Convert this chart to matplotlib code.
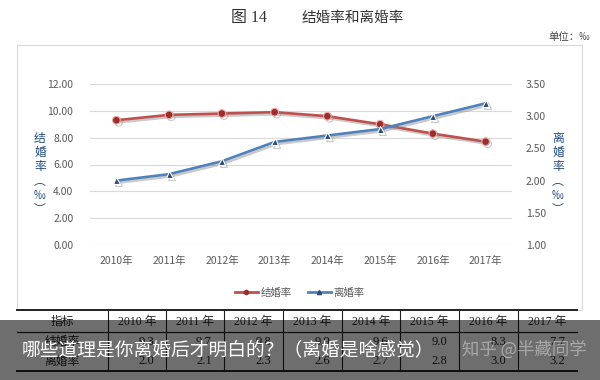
import matplotlib
matplotlib.use('Agg')
import matplotlib.pyplot as plt
import matplotlib.patheffects as pe
from matplotlib.patches import Rectangle
from matplotlib.lines import Line2D

plt.rcParams['font.family'] = ['Noto Sans CJK SC', 'DejaVu Sans']

# data
years = ['2010年', '2011年', '2012年', '2013年', '2014年', '2015年', '2016年', '2017年']
table_years = ['2010 年', '2011 年', '2012 年', '2013 年', '2014 年', '2015 年', '2016 年', '2017 年']
marriage = [9.3, 9.7, 9.8, 9.9, 9.6, 9.0, 8.3, 7.7]
divorce = [2.0, 2.1, 2.3, 2.6, 2.7, 2.8, 3.0, 3.2]
left_ticks = [0, 2, 4, 6, 8, 10, 12]
right_ticks = [1.0, 1.5, 2.0, 2.5, 3.0, 3.5]

W, H = 600, 380
fig = plt.figure(figsize=(6, 3.8), dpi=100)
fig.patch.set_facecolor('white')

def fx(x):
    return x / W

def fy(y):
    return 1 - y / H

RED = '#C0504D'
BLUE = '#4F81BD'
GRID = '#d9d9d9'
TXT = '#595959'
serif = ['Liberation Serif', 'Noto Sans CJK SC']

# title and unit
fig.text(fx(249), fy(18), '图 14', family=serif, fontsize=11.5, color='#333333', ha='center', va='center')
fig.text(fx(353), fy(18), '结婚率和离婚率', fontsize=10.5, color='#333333', ha='center', va='center')
fig.text(fx(590), fy(37), '单位：‰', fontsize=7.5, color='#444444', ha='right', va='center')

# chart frame (outline only, so the axes stay visible)
fig.add_artist(Rectangle((fx(17), fy(310)), fx(582) - fx(17), fy(45) - fy(310),
                         transform=fig.transFigure, facecolor='none', edgecolor=GRID, lw=0.8))

ax = fig.add_axes([fx(90), fy(245), fx(512) - fx(90), fy(84) - fy(245)])
ax.set_facecolor('none')
ax2 = ax.twinx()
x = list(range(len(years)))

shadow = [pe.SimpleLineShadow(offset=(1.5, -1.5), shadow_color='#888888', alpha=0.45), pe.Normal()]
l1, = ax.plot(x, marriage, color=RED, lw=1.9, marker='o', ms=5.5,
              mfc='#9b2d2a', mec='#e8a8a6', mew=0.8, path_effects=shadow, zorder=3)
l2, = ax2.plot(x, divorce, color=BLUE, lw=1.9, marker='^', ms=5,
               mfc='#2c4d75', mec='white', mew=0.8, path_effects=shadow, zorder=3)

ax.set_xlim(-0.5, 7.5)
ax.set_ylim(0, 12)
ax2.set_ylim(1.0, 3.5)
ax.set_yticks(left_ticks)
ax.set_yticklabels(['%.2f' % v for v in left_ticks])
ax2.set_yticks(right_ticks)
ax2.set_yticklabels(['%.2f' % v for v in right_ticks])
ax.set_xticks(x)
ax.set_xticklabels(years)
ax.grid(axis='y', color=GRID, lw=0.8)
ax.set_axisbelow(True)
for a in (ax, ax2):
    for s in a.spines.values():
        s.set_visible(False)
    a.tick_params(length=0, labelsize=7.5, labelcolor=TXT)
ax.tick_params(axis='y', pad=12)
ax2.tick_params(axis='y', pad=10)
ax.tick_params(axis='x', pad=8)

# vertical stacked axis titles
fig.text(fx(40), fy(174), '\n'.join('结婚率︵‰︶'), fontsize=8.5, color='#1F497D',
         ha='center', va='center', linespacing=1.12)
fig.text(fx(558), fy(174), '\n'.join('离婚率︵‰︶'), fontsize=8.5, color='#1F497D',
         ha='center', va='center', linespacing=1.12)

# legend
h1 = Line2D([], [], color=RED, lw=2, marker='o', ms=3, mfc='#9b2d2a', mec='#9b2d2a')
h2 = Line2D([], [], color=BLUE, lw=2, marker='^', ms=3, mfc='#2c4d75', mec='#2c4d75')
fig.legend([h1, h2], ['结婚率', '离婚率'], loc='center', bbox_to_anchor=(fx(300), fy(293)),
           ncol=2, frameon=False, fontsize=7.5, labelcolor=TXT, handlelength=2.2,
           handletextpad=0.3, columnspacing=1.5)

# data table
cols = [17, 108, 166, 224, 283, 342, 400, 459, 518, 577]
fig.add_artist(Line2D([fx(17), fx(577)], [fy(310), fy(310)], color='#222222', lw=1.4))
fig.add_artist(Line2D([fx(17), fx(577)], [fy(332), fy(332)], color='#222222', lw=0.9))
fig.add_artist(Line2D([fx(17), fx(577)], [fy(371), fy(371)], color='#222222', lw=1.4))
for c in cols[1:-1]:
    fig.add_artist(Line2D([fx(c), fx(c)], [fy(310), fy(371)], color='#222222', lw=0.8))
fig.text(fx(62), fy(322), '指标', fontsize=8.5, color='#222222', ha='center', va='center')
fig.text(fx(62), fy(342), '结婚率', fontsize=8.5, color='#222222', ha='center', va='center')
fig.text(fx(62), fy(361), '离婚率', fontsize=8.5, color='#222222', ha='center', va='center')
for i, yr in enumerate(table_years):
    fig.text(fx((cols[i + 1] + cols[i + 2]) / 2), fy(322), yr, family=serif, fontsize=8.5,
             color='#222222', ha='center', va='center')
    fig.text(fx(cols[i + 2] - 12), fy(342), '%.1f' % marriage[i], family=serif, fontsize=9,
             color='#222222', ha='right', va='center')
    fig.text(fx(cols[i + 2] - 12), fy(361), '%.1f' % divorce[i], family=serif, fontsize=9,
             color='#222222', ha='right', va='center')

# dark caption banner over the bottom
fig.add_artist(Rectangle((0, 0), 1, fy(320), transform=fig.transFigure,
                         facecolor='black', alpha=0.57, edgecolor='none', zorder=10))
fig.text(fx(22), fy(350), '哪些道理是你离婚后才明白的？（离婚是啥感觉）', fontsize=13.5,
         color='white', ha='left', va='center', zorder=11)
fig.text(fx(587), fy(350), '知乎 @半藏同学', fontsize=12.5, color='white', alpha=0.4,
         ha='right', va='center', zorder=11)

fig.savefig('out.png', dpi=100, facecolor='white')
